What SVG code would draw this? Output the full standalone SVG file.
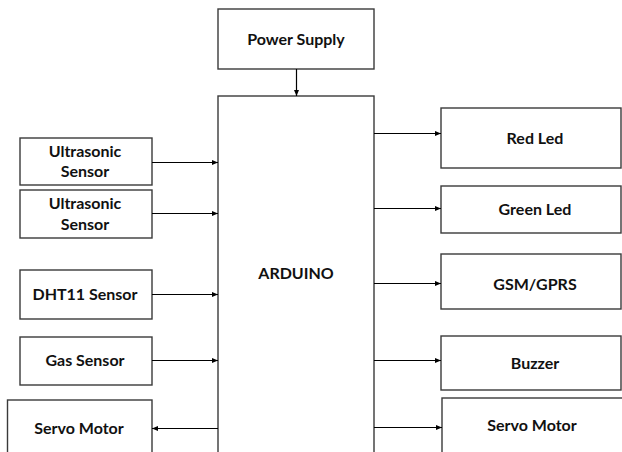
<svg xmlns="http://www.w3.org/2000/svg" width="622" height="452" viewBox="0 0 622 452">
<defs>
<marker id="ah" viewBox="0 0 6 6" refX="6" refY="3" markerWidth="6" markerHeight="6" markerUnits="userSpaceOnUse" orient="auto">
<path d="M0,0.5 L6,3 L0,5.5 Z" fill="#000"/>
</marker>
<style>
.box{fill:#fff;stroke:#3a3a3a;stroke-width:1.4}
.lbl{font-family:Lato,"Open Sans","Liberation Sans",sans-serif;font-weight:bold;font-size:16px;fill:#111;text-anchor:middle}
.c{stroke:#000;stroke-width:1.2;fill:none;marker-end:url(#ah)}
</style>
</defs>
<rect width="622" height="452" fill="#fff"/>
<g id="power-supply"><rect class="box" x="218" y="9" width="156" height="60"/><text class="lbl" x="296" y="44.5">Power Supply</text></g>
<g id="arduino"><rect class="box" x="218" y="96" width="156" height="362"/><text class="lbl" x="296" y="279">ARDUINO</text></g>
<g id="ultrasonic-1"><rect class="box" x="20" y="138" width="132" height="47"/><text class="lbl" x="85" y="157">Ultrasonic</text><text class="lbl" x="85" y="177">Sensor</text></g>
<g id="ultrasonic-2"><rect class="box" x="20" y="190" width="132" height="48"/><text class="lbl" x="85" y="209">Ultrasonic</text><text class="lbl" x="85" y="230">Sensor</text></g>
<g id="dht11"><rect class="box" x="20" y="270" width="132" height="49"/><text class="lbl" x="85" y="299.5">DHT11 Sensor</text></g>
<g id="gas-sensor"><rect class="box" x="20" y="337" width="132" height="48"/><text class="lbl" x="85" y="365.5">Gas Sensor</text></g>
<g id="servo-left"><rect class="box" x="7.5" y="400" width="144.5" height="60"/><text class="lbl" x="79" y="433.5">Servo Motor</text></g>
<g id="red-led"><rect class="box" x="441" y="108" width="180" height="60"/><text class="lbl" x="535" y="143.5">Red Led</text></g>
<g id="green-led"><rect class="box" x="441" y="186" width="180" height="47"/><text class="lbl" x="535" y="214.5">Green Led</text></g>
<g id="gsm-gprs"><rect class="box" x="441" y="254" width="180" height="55"/><text class="lbl" x="535" y="289.5">GSM/GPRS</text></g>
<g id="buzzer"><rect class="box" x="441" y="336" width="180" height="54"/><text class="lbl" x="535" y="368.5">Buzzer</text></g>
<g id="servo-right"><rect class="box" x="442" y="398" width="186" height="60"/><text class="lbl" x="532" y="431">Servo Motor</text></g>
<g id="connectors">
<line class="c" x1="296.5" y1="69" x2="296.5" y2="96"/>
<line class="c" x1="152" y1="162.5" x2="218" y2="162.5"/>
<line class="c" x1="152" y1="213.5" x2="218" y2="213.5"/>
<line class="c" x1="152" y1="294.5" x2="218" y2="294.5"/>
<line class="c" x1="152" y1="360.5" x2="218" y2="360.5"/>
<line class="c" x1="218" y1="428.5" x2="152" y2="428.5"/>
<line class="c" x1="374" y1="133.5" x2="441" y2="133.5"/>
<line class="c" x1="374" y1="208.5" x2="441" y2="208.5"/>
<line class="c" x1="374" y1="283.5" x2="441" y2="283.5"/>
<line class="c" x1="374" y1="360.5" x2="441" y2="360.5"/>
<line class="c" x1="374" y1="427.5" x2="442" y2="427.5"/>
</g>
</svg>
